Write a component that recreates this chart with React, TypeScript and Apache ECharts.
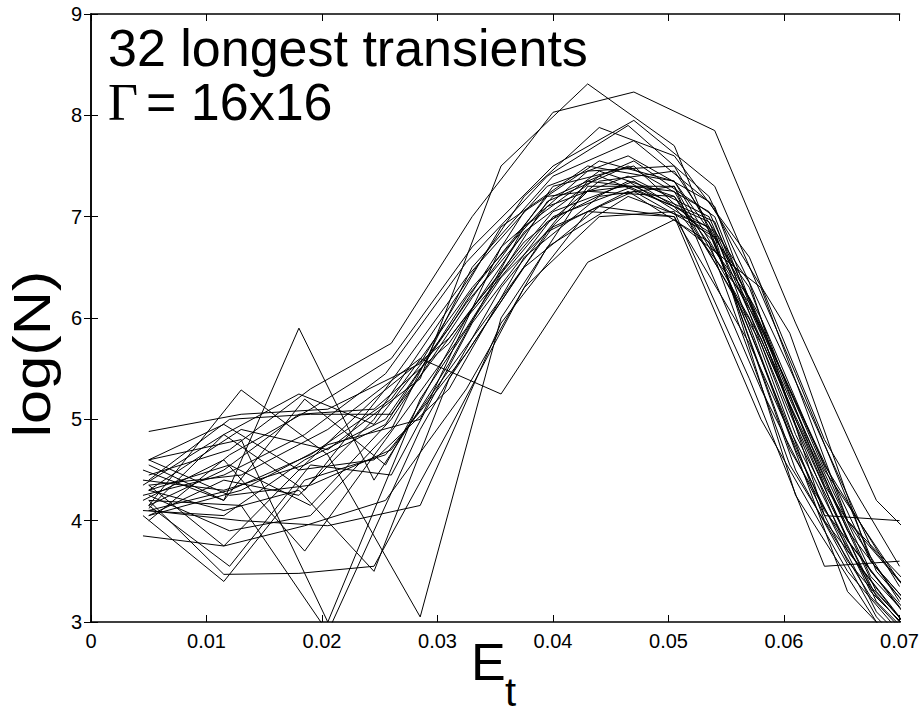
import { useEffect, useRef } from "react";
import * as echarts from "echarts";

// Axis ranges / ticks
const xMin = 0;
const xMax = 0.07;
const xStep = 0.01;
const yMin = 3;
const yMax = 9;
const yStep = 1;

// x positions (E_t) of the sample points, four spacing families
const xFamA = [0.005, 0.0115, 0.018, 0.0245, 0.031, 0.0375, 0.044, 0.0505, 0.057, 0.0635, 0.07];
const xFamB = [0.005, 0.012, 0.019, 0.026, 0.033, 0.04, 0.047, 0.054, 0.061, 0.068, 0.075];
const xFamC = [0.0045, 0.0115, 0.0185, 0.0255, 0.0325, 0.0395, 0.0465, 0.0535, 0.0605, 0.0675, 0.0745];
const xFamD = [0.005, 0.013, 0.0205, 0.0285, 0.0355, 0.043, 0.0505, 0.058, 0.0655, 0.073];

// log(N) values of the 32 transients
const a1 = [4.12, 4.85, 5.25, 4.95, 5.9, 7.05, 7.55, 7.35, 6.3, 4.35, 3.2];
const a2 = [4.35, 3.75, 4.5, 4.6, 5.3, 6.6, 7.2, 7.3, 6.0, 4.0, 3.05];
const a3 = [4.55, 4.2, 5.9, 4.4, 5.55, 6.9, 7.45, 7.2, 6.2, 4.5, 3.4];
const a4 = [4.05, 4.4, 4.25, 5.0, 6.1, 7.2, 7.88, 7.6, 6.6, 4.8, 3.55];
const a5 = [4.2, 3.47, 3.48, 3.55, 4.9, 6.3, 7.0, 7.05, 5.4, 3.55, 3.6];
const a6 = [4.6, 4.95, 4.5, 5.2, 5.8, 6.75, 7.35, 7.45, 6.35, 4.05, 4.0];
const a7 = [4.3, 4.1, 4.3, 3.5, 5.4, 6.5, 7.1, 7.0, 5.75, 4.1, 3.15];
const a8 = [4.15, 4.5, 5.05, 5.1, 5.75, 6.85, 7.4, 7.1, 6.15, 4.55, 3.35];

const b1 = [4.1, 4.3, 4.65, 5.2, 6.3, 7.2, 7.55, 7.0, 5.0, 3.3, 2.4];
const b2 = [4.4, 5.0, 5.05, 5.05, 6.1, 7.05, 7.35, 6.85, 4.7, 3.1, 2.3];
const b3 = [4.25, 3.9, 4.05, 4.9, 6.5, 7.4, 7.75, 7.1, 4.95, 3.2, 2.4];
const b4 = [4.0, 4.65, 5.1, 5.6, 6.7, 7.5, 7.95, 7.3, 5.45, 3.5, 2.6];
const b5 = [4.6, 4.25, 4.35, 4.7, 5.8, 6.9, 7.25, 6.8, 4.25, 3.0, 2.2];
const b6 = [4.15, 3.55, 4.55, 4.45, 5.95, 7.0, 7.3, 6.95, 4.85, 3.25, 2.4];
const b7 = [4.3, 4.55, 4.15, 5.0, 6.2, 7.3, 7.5, 6.75, 4.5, 3.05, 2.2];
const b8 = [4.45, 4.7, 5.3, 5.75, 7.0, 8.03, 8.23, 7.85, 5.95, 4.2, 3.4];

const c1 = [4.1, 4.05, 4.6, 5.0, 6.15, 7.1, 7.4, 7.0, 5.2, 3.5, 2.6];
const c2 = [4.35, 4.85, 4.3, 5.3, 6.4, 7.3, 7.6, 7.15, 5.85, 3.6, 2.7];
const c3 = [3.85, 3.75, 3.95, 4.2, 5.3, 6.7, 7.2, 6.9, 4.7, 3.35, 2.5];
const c4 = [4.5, 4.2, 5.2, 4.55, 6.0, 6.95, 7.35, 6.85, 4.9, 3.3, 2.5];
const c5 = [4.2, 4.6, 3.7, 4.8, 5.9, 7.15, 7.5, 7.05, 5.3, 3.6, 2.7];
const c6 = [4.05, 3.4, 4.4, 4.65, 5.65, 6.85, 7.25, 6.75, 4.55, 3.25, 2.4];
const c7 = [4.25, 4.45, 4.85, 5.45, 6.55, 7.4, 7.9, 7.2, 5.5, 3.75, 2.8];
const c8 = [4.4, 4.3, 4.55, 4.95, 6.2, 7.2, 7.3, 6.95, 5.15, 3.45, 2.6];

const d1 = [4.3, 4.9, 4.7, 5.4, 7.5, 8.31, 7.7, 5.6, 3.3, 2.4];
const d2 = [4.15, 5.29, 4.65, 3.05, 6.0, 7.3, 7.3, 5.3, 3.6, 2.6];
const d3 = [4.6, 4.8, 3.0, 5.2, 6.4, 7.25, 7.2, 5.8, 3.8, 2.7];
const d4 = [4.1, 4.0, 3.95, 4.15, 5.95, 7.05, 7.0, 5.0, 3.5, 2.5];
const d5 = [4.88, 5.05, 5.1, 5.55, 6.9, 7.5, 7.35, 5.9, 3.9, 2.8];
const d6 = [4.2, 4.15, 2.9, 4.9, 6.3, 7.35, 7.25, 5.75, 3.7, 2.6];
const d7 = [4.35, 4.45, 4.9, 5.6, 5.25, 6.55, 6.97, 6.3, 4.0, 3.1];
const d8 = [4.05, 4.3, 4.75, 5.0, 6.7, 7.45, 7.5, 6.0, 4.0, 3.0];

const groupA = [a1, a2, a3, a4, a5, a6, a7, a8];
const groupB = [b1, b2, b3, b4, b5, b6, b7, b8];
const groupC = [c1, c2, c3, c4, c5, c6, c7, c8];
const groupD = [d1, d2, d3, d4, d5, d6, d7, d8];

const titleLine1 = "32 longest transients";
const titleGamma = "Γ";
const titleLine2 = "= 16x16";
const xName = "E";
const xNameSub = "t";
const yName = "log(N)";

const SANS = "'Liberation Sans', Arial, Helvetica, sans-serif";
const SERIF = "'Liberation Serif', 'Times New Roman', serif";

export default function App() {
  const ref = useRef<HTMLDivElement>(null);

  useEffect(() => {
    if (!ref.current) return;
    const chart = echarts.init(ref.current, undefined, { renderer: "svg" });

    const toSeries = (xs: number[], groups: number[][]) =>
      groups.map((ys) => ({
        type: "line" as const,
        data: xs.map((x, i) => [x, ys[i]]),
        showSymbol: false,
        symbol: "none",
        clip: true,
        silent: true,
        xAxisIndex: 0,
        yAxisIndex: 0,
        lineStyle: { color: "#000", width: 1 },
      }));

    const series = [
      ...toSeries(xFamA, groupA),
      ...toSeries(xFamB, groupB),
      ...toSeries(xFamC, groupC),
      ...toSeries(xFamD, groupD),
    ];

    const axisLine = { show: true, lineStyle: { color: "#000", width: 1.5 } };
    const tick = { show: true, inside: true, length: 7, lineStyle: { color: "#000", width: 1 } };

    chart.setOption({
      animation: false,
      backgroundColor: "#fff",
      grid: { left: 91, right: 22, top: 14, bottom: 94, containLabel: false },
      xAxis: [
        {
          type: "value",
          min: xMin,
          max: xMax,
          interval: xStep,
          position: "bottom",
          axisLine,
          axisTick: tick,
          splitLine: { show: false },
          axisLabel: {
            margin: 9,
            fontSize: 20,
            color: "#000",
            fontFamily: SANS,
            formatter: (v: number) => (Math.abs(v) < 1e-9 ? "0" : v.toFixed(2)),
          },
        },
        {
          type: "value",
          min: xMin,
          max: xMax,
          interval: xStep,
          position: "top",
          axisLine,
          axisTick: tick,
          splitLine: { show: false },
          axisLabel: { show: false },
        },
      ],
      yAxis: [
        {
          type: "value",
          min: yMin,
          max: yMax,
          interval: yStep,
          position: "left",
          axisLine,
          axisTick: tick,
          splitLine: { show: false },
          axisLabel: { margin: 9, fontSize: 20, color: "#000", fontFamily: SANS },
        },
        {
          type: "value",
          min: yMin,
          max: yMax,
          interval: yStep,
          position: "right",
          axisLine,
          axisTick: tick,
          splitLine: { show: false },
          axisLabel: { show: false },
        },
      ],
      graphic: [
        {
          type: "text",
          left: 108,
          top: 22,
          style: { text: titleLine1, fontSize: 52, fontFamily: SANS, fill: "#000" },
        },
        {
          type: "text",
          left: 108,
          top: 76,
          style: { text: titleGamma, fontSize: 52, fontFamily: SERIF, fill: "#000" },
        },
        {
          type: "text",
          left: 146,
          top: 76,
          style: { text: titleLine2, fontSize: 52, fontFamily: SANS, fill: "#000" },
        },
        {
          type: "text",
          left: 471,
          top: 636,
          style: { text: xName, fontSize: 52, fontFamily: SANS, fill: "#000" },
        },
        {
          type: "text",
          left: 505,
          top: 672,
          style: { text: xNameSub, fontSize: 40, fontFamily: SANS, fill: "#000" },
        },
        {
          type: "text",
          x: 32,
          y: 354,
          rotation: Math.PI / 2,
          scaleX: 1.18,
          style: {
            text: yName,
            fontSize: 52,
            fontFamily: SANS,
            fill: "#000",
            align: "center",
            verticalAlign: "middle",
          },
        },
      ],
      series,
    });

    return () => chart.dispose();
  }, []);

  return <div ref={ref} style={{ width: 922, height: 716, position: "absolute", left: 0, top: 0 }} />;
}
